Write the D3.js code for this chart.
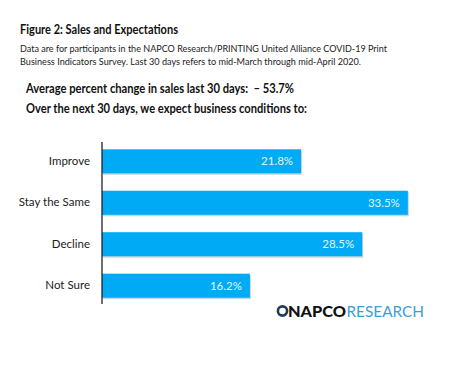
<!DOCTYPE html>
<html>
  <head>
    <meta charset="utf-8">
    <title>Sales and Expectations</title>
    <style>
      body { margin: 0; background: #fff; }
      text { font-family: Lato, "Open Sans", sans-serif; }
    </style>
  </head>
  <body>
    <div id="container"></div>
    <script src="https://d3js.org/d3.v7.min.js"></script>
    <script>

      // DATA
      var categories = ["Improve", "Stay the Same", "Decline", "Not Sure"];
      var values = [21.8, 33.5, 28.5, 16.2];
      var titleText = "Figure 2: Sales and Expectations";
      var noteLines = [
        "Data are for participants in the NAPCO Research/PRINTING United Alliance COVID-19 Print",
        "Business Indicators Survey. Last 30 days refers to mid-March through mid-April 2020."
      ];
      var headLines = [
        "Average percent change in sales last 30 days:\u00a0\u00a0\u2013 53.7%",
        "Over the next 30 days, we expect business conditions to:"
      ];

      // SVG
      var W = 475, H = 370;
      var svg = d3.select("#container")
        .append("svg")
        .attr("width", W)
        .attr("height", H);

      // TITLE & NOTES
      svg.append("text")
        .attr("x", 20).attr("y", 34)
        .attr("font-size", 13.5)
        .attr("font-weight", "bold")
        .attr("fill", "#111")
        .attr("textLength", 158)
        .attr("lengthAdjust", "spacingAndGlyphs")
        .text(titleText);

      svg.selectAll(".note")
        .data(noteLines)
        .enter()
        .append("text")
        .attr("x", 20)
        .attr("y", (d, i) => 52 + i * 12.5)
        .attr("font-size", 9.6)
        .attr("fill", "#222")
        .attr("textLength", (d, i) => i == 0 ? 367 : 341)
        .attr("lengthAdjust", "spacingAndGlyphs")
        .text(d => d);

      svg.selectAll(".head")
        .data(headLines)
        .enter()
        .append("text")
        .attr("x", 26)
        .attr("y", (d, i) => 93 + i * 20)
        .attr("font-size", 12.8)
        .attr("font-weight", "bold")
        .attr("fill", "#111")
        .attr("textLength", (d, i) => i == 0 ? 268 : 281)
        .attr("lengthAdjust", "spacingAndGlyphs")
        .text(d => d);

      // SCALES
      var x = d3.scaleLinear()
        .domain([0, 40])
        .range([102, 102 + 9.13 * 40]);

      var y = d3.scaleBand()
        .domain(categories)
        .range([141, 306])
        .paddingInner(0.42)
        .paddingOuter(0.2);

      // BARS (soft shadow underneath)
      svg.selectAll(".shadow")
        .data(values)
        .enter()
        .append("rect")
        .attr("x", x(0) + 1)
        .attr("y", (d, i) => y(categories[i]) + 1.5)
        .attr("width", d => x(d) - x(0))
        .attr("height", y.bandwidth())
        .attr("fill", "#c9d6de");

      svg.selectAll(".bar")
        .data(values)
        .enter()
        .append("rect")
        .attr("x", x(0))
        .attr("y", (d, i) => y(categories[i]))
        .attr("width", d => x(d) - x(0))
        .attr("height", y.bandwidth())
        .attr("fill", "#00aaf5");

      // VALUE LABELS
      svg.selectAll(".val")
        .data(values)
        .enter()
        .append("text")
        .attr("x", d => x(d) - 8)
        .attr("y", (d, i) => y(categories[i]) + y.bandwidth() / 2)
        .attr("dy", "0.36em")
        .attr("text-anchor", "end")
        .attr("font-size", 11.5)
        .attr("fill", "#e6f5fd")
        .text(d => d.toFixed(1) + "%");

      // Y AXIS
      var yAxis = svg.append("g")
        .attr("transform", "translate(" + x(0) + ",0)")
        .call(d3.axisLeft(y).tickSize(0).tickPadding(12));
      yAxis.select(".domain")
        .attr("d", "M0,142V304")
        .attr("stroke", "#222")
        .attr("stroke-width", 1.3);
      yAxis.selectAll("text")
        .attr("font-family", "Lato, 'Open Sans', sans-serif")
        .attr("font-size", 11.5)
        .attr("fill", "#222");

      // LOGO
      var logo = svg.append("g").attr("transform", "translate(277,317)");
      logo.append("circle")
        .attr("cx", 5.5).attr("cy", -6)
        .attr("r", 4.6)
        .attr("fill", "none")
        .attr("stroke", "#1f3b57")
        .attr("stroke-width", 2.6);
      logo.append("text")
        .attr("x", 11).attr("y", 0)
        .attr("font-size", 15.5)
        .attr("font-weight", "900")
        .attr("fill", "#111")
        .attr("textLength", 58)
        .attr("lengthAdjust", "spacingAndGlyphs")
        .text("NAPCO");
      logo.append("text")
        .attr("x", 69.5).attr("y", 0)
        .attr("font-size", 15.5)
        .attr("fill", "#3a9fd2")
        .attr("textLength", 77.5)
        .attr("lengthAdjust", "spacingAndGlyphs")
        .text("RESEARCH");

    </script>
  </body>
</html>
